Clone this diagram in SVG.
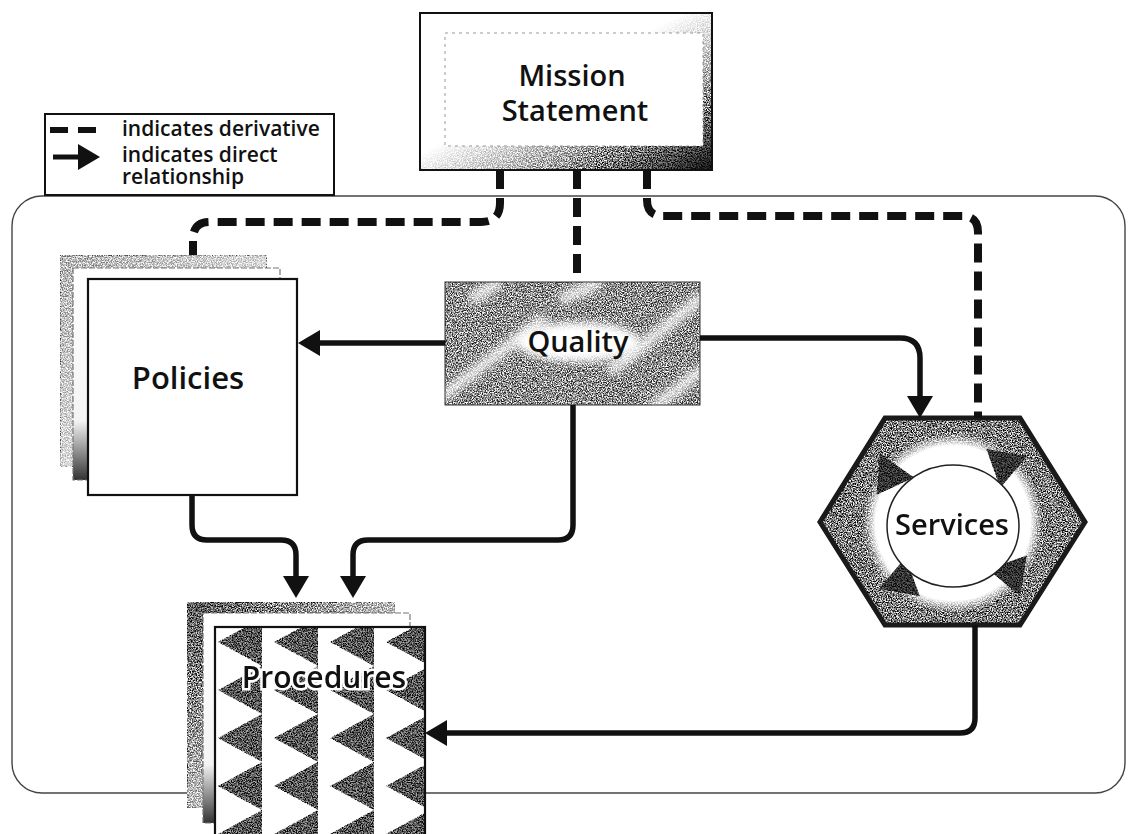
<svg xmlns="http://www.w3.org/2000/svg" width="1133" height="834" viewBox="0 0 1133 834">
<style>
.lbl{font-family:"Open Sans","Noto Sans",sans-serif;font-weight:600;fill:#111;text-anchor:middle}
.leg{font-family:"Open Sans","Noto Sans",sans-serif;font-weight:600;font-size:21px;fill:#111}
.solid{fill:none;stroke:#111;stroke-width:5.5;stroke-linejoin:round;marker-end:url(#ah)}
.dash{fill:none;stroke:#111;stroke-width:8;stroke-dasharray:19 9}
.page{stroke:#777;stroke-width:1.2;stroke-dasharray:6 2}
</style>
<defs>
<filter id="grain" x="0" y="0" width="100%" height="100%" color-interpolation-filters="sRGB">
<feTurbulence type="fractalNoise" baseFrequency="0.8" numOctaves="2" seed="7" result="t"/>
<feColorMatrix in="t" type="matrix" values="2.8 0 0 0 -0.9 2.8 0 0 0 -0.9 2.8 0 0 0 -0.9 0 0 0 0 1" result="g"/>
<feBlend in="g" in2="SourceGraphic" mode="overlay" result="b"/>
<feComposite in="b" in2="SourceAlpha" operator="in"/>
</filter>
<filter id="soft" x="-20%" y="-20%" width="140%" height="140%"><feGaussianBlur stdDeviation="4"/></filter>
<marker id="ah" markerUnits="userSpaceOnUse" markerWidth="22" markerHeight="26" viewBox="0 0 22 26" refX="6" refY="13" orient="auto">
<path d="M0,0 L22,13 L0,26 Z" fill="#111"/>
</marker>
<linearGradient id="mgrad" x1="0" y1="0" x2="1" y2="1">
<stop offset="0" stop-color="#fff"/><stop offset="0.45" stop-color="#fff"/><stop offset="0.7" stop-color="#aaa"/><stop offset="0.9" stop-color="#444"/><stop offset="1" stop-color="#111"/>
</linearGradient>
<linearGradient id="pback" x1="0" y1="0" x2="1" y2="1">
<stop offset="0" stop-color="#b5b5b5"/><stop offset="0.6" stop-color="#dedede"/><stop offset="1" stop-color="#eee"/>
</linearGradient>
<linearGradient id="pmid" x1="0" y1="0" x2="0" y2="1">
<stop offset="0" stop-color="#fff"/><stop offset="0.72" stop-color="#f4f4f4"/><stop offset="1" stop-color="#333"/>
</linearGradient>
<linearGradient id="rback" x1="0" y1="0" x2="1" y2="1">
<stop offset="0" stop-color="#555"/><stop offset="0.5" stop-color="#bbb"/><stop offset="1" stop-color="#eee"/>
</linearGradient>
<radialGradient id="ring" cx="0.5" cy="0.5" r="0.5">
<stop offset="0" stop-color="#fff"/><stop offset="0.86" stop-color="#fff"/><stop offset="1" stop-color="#fff" stop-opacity="0"/>
</radialGradient>
<pattern id="tri" patternUnits="userSpaceOnUse" x="218" y="666" width="56" height="48">
<polygon points="0,24 44,0 44,48" fill="#555"/>
</pattern>
<clipPath id="qclip"><rect x="445" y="282" width="255" height="123"/></clipPath>
</defs>

<rect id="frame" x="12" y="196" width="1113" height="597" rx="30" fill="none" stroke="#444" stroke-width="1.4"/>

<g id="legend">
<rect x="45" y="114" width="289" height="81" fill="#fff" stroke="#111" stroke-width="2"/>
<line x1="50" y1="130" x2="97" y2="130" stroke="#111" stroke-width="6" stroke-dasharray="18 10"/>
<text class="leg" x="122" y="136">indicates derivative</text>
<line x1="53" y1="157" x2="84" y2="157" stroke="#111" stroke-width="5" marker-end="url(#ah)"/>
<text class="leg" x="122" y="162">indicates direct</text>
<text class="leg" x="122" y="184">relationship</text>
</g>

<g id="mission">
<rect x="420" y="13" width="292" height="157" fill="url(#mgrad)" filter="url(#grain)"/>
<rect x="420" y="13" width="292" height="157" fill="none" stroke="#111" stroke-width="2"/>
<rect x="445" y="33" width="258" height="113" fill="#fff" stroke="#999" stroke-width="1" stroke-dasharray="3 4"/>
<text class="lbl" x="572" y="86" font-size="29">Mission</text>
<text class="lbl" x="575" y="121" font-size="29">Statement</text>
</g>

<g id="policies">
<rect class="page" x="60" y="255" width="207" height="212" fill="url(#pback)" filter="url(#grain)"/>
<rect class="page" x="73" y="268" width="207" height="212" fill="url(#pmid)"/>
<rect x="88" y="279" width="209" height="216" fill="#fff" stroke="#111" stroke-width="2.2"/>
<text class="lbl" x="188" y="389" font-size="31">Policies</text>
</g>

<g id="quality">
<g clip-path="url(#qclip)" filter="url(#grain)">
<rect x="445" y="282" width="255" height="123" fill="#8e8e8e"/>
<g filter="url(#soft)" stroke="#fff" stroke-width="11" opacity="0.85">
<line x1="440" y1="398" x2="545" y2="318"/>
<line x1="610" y1="372" x2="705" y2="295"/>
<line x1="470" y1="300" x2="500" y2="282"/>
<line x1="650" y1="410" x2="705" y2="368"/>
<line x1="560" y1="300" x2="600" y2="282"/>
</g>
<ellipse cx="578" cy="342" rx="62" ry="20" fill="#fff" filter="url(#soft)"/>
</g>
<rect x="445" y="282" width="255" height="123" fill="none" stroke="#333" stroke-width="1"/>
<text class="lbl" x="578" y="352" font-size="29">Quality</text>
</g>

<g id="services">
<polygon points="885,418 1020,418 1085,522 1020,625 885,625 820,522" fill="#7c7c7c" filter="url(#grain)"/>
<polygon points="885,418 1020,418 1085,522 1020,625 885,625 820,522" fill="none" stroke="#1a1a1a" stroke-width="5" stroke-linejoin="miter"/>
<circle cx="953" cy="523" r="90" fill="url(#ring)"/>
<g fill="#333" filter="url(#grain)">
<polygon points="22,0 -14,-21 -14,21" transform="translate(889,477) rotate(125)"/>
<polygon points="22,0 -14,-21 -14,21" transform="translate(1003,463) rotate(-140)"/>
<polygon points="22,0 -14,-21 -14,21" transform="translate(903,582) rotate(40)"/>
<polygon points="22,0 -14,-21 -14,21" transform="translate(1013,572) rotate(-50)"/>
</g>
<ellipse cx="953" cy="526" rx="66" ry="61" fill="#fff" stroke="#222" stroke-width="1.5"/>
<text class="lbl" x="952" y="535" font-size="29">Services</text>
</g>

<g id="procedures">
<rect x="187" y="602" width="208" height="206" fill="url(#rback)" stroke="#777" stroke-width="1" filter="url(#grain)"/>
<rect class="page" x="203" y="613" width="207" height="210" fill="url(#pmid)"/>
<g filter="url(#grain)">
<rect x="215" y="627" width="210" height="215" fill="#fff"/>
<rect x="215" y="627" width="210" height="215" fill="url(#tri)"/>
</g>
<rect x="215" y="627" width="210" height="215" fill="none" stroke="#111" stroke-width="2.2"/>
<text class="lbl" x="324" y="688" font-size="30" stroke="#fff" stroke-width="5" paint-order="stroke">Procedures</text>
</g>

<g id="connectors">
<path class="dash" d="M500,170 V203 Q500,222 481,222 H210 Q193,222 193,239 V255"/>
<path class="dash" d="M577,170 V282"/>
<path class="dash" d="M647,170 V200 Q647,216 663,216 H962 Q978,216 978,232 V418"/>
<path class="solid" d="M445,343 H314"/>
<path class="solid" d="M700,338 H900 Q920,338 920,358 V402"/>
<path class="solid" d="M192,495 V525 Q192,540 207,540 H281 Q296,540 296,555 V582"/>
<path class="solid" d="M573,405 V525 Q573,540 558,540 H368 Q353,540 353,555 V582"/>
<path class="solid" d="M975,625 V718 Q975,733 960,733 H441"/>
</g>
</svg>
